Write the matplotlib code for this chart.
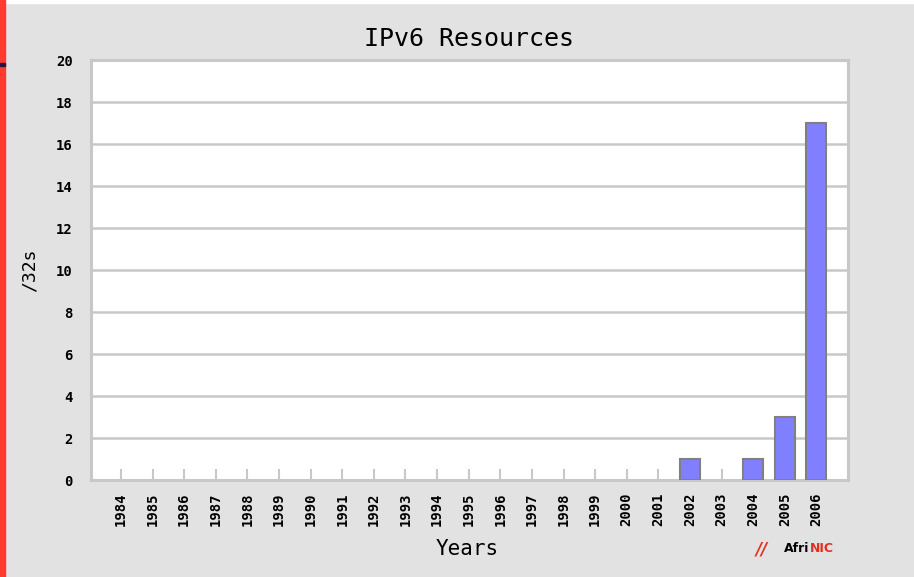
import matplotlib.pyplot as plt
import numpy as np

# data
years = [str(y) for y in range(1984, 2007)]
counts = [0] * 18 + [1, 0, 1, 3, 17]

bg = '#e2e2e2'
grid_c = '#c8c8c8'

fig = plt.figure(figsize=(9.14, 5.77), dpi=100, facecolor=bg)
ax = fig.add_axes([91 / 914, 97 / 577, 757 / 914, 420 / 577])
ax.set_facecolor('white')

x = np.arange(len(years))
mask = np.array(counts) > 0
ax.bar(x[mask], np.array(counts)[mask], width=0.63, color='#8080ff',
       edgecolor='#808080', linewidth=1.5, zorder=3)

ax.set_xlim(-0.95, 23.0)
ax.set_ylim(0, 20)
ax.set_yticks(range(0, 21, 2))
ax.yaxis.grid(True, color=grid_c, linewidth=1.8)
ax.set_axisbelow(True)

for s in ax.spines.values():
    s.set_color(grid_c)
    s.set_linewidth(2.2)

mono = 'DejaVu Sans Mono'
ax.set_xticks(x)
ax.set_xticklabels(years, rotation=90, fontsize=10, fontweight='bold', family=mono)
ax.tick_params(axis='x', direction='in', length=8, width=1.5, color=grid_c, pad=9)
ax.tick_params(axis='y', length=0, pad=13, labelsize=10)
for lbl in ax.get_yticklabels():
    lbl.set_fontweight('bold')
    lbl.set_family(mono)

ax.set_title('IPv6 Resources', family=mono, fontsize=18, pad=10)
fig.text(30 / 914, 1 - 270 / 577, '/32s', rotation=90, family=mono, fontsize=13,
         ha='center', va='center')
fig.text(467 / 914, 1 - 549 / 577, 'Years', family=mono, fontsize=15,
         ha='center', va='center')

# logo
fig.text(756 / 914, 1 - 550 / 577, '//', color='#e03020', fontsize=12,
         fontweight='bold', style='italic', ha='left', va='center')
fig.text(784 / 914, 1 - 549 / 577, 'Afri', color='black', fontsize=9,
         fontweight='bold', ha='left', va='center')
fig.text(810 / 914, 1 - 549 / 577, 'NIC', color='#e03020', fontsize=9,
         fontweight='bold', ha='left', va='center')

# left red strip and marks
fig.patches.append(plt.Rectangle((0, 0), 5 / 914, 1, transform=fig.transFigure,
                                 color='#ff3b30', zorder=5))
fig.patches.append(plt.Rectangle((0, 1 - 66 / 577), 5 / 914, 3 / 577,
                                 transform=fig.transFigure, color='#301040', zorder=6))
fig.patches.append(plt.Rectangle((0, 1 - 3 / 577), 1, 3 / 577,
                                 transform=fig.transFigure, color='white', zorder=4))

fig.savefig('out.png', dpi=100, facecolor=bg)
